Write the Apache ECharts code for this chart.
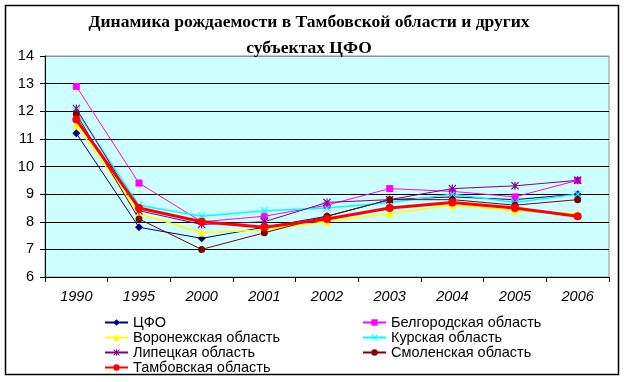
<!DOCTYPE html>
<html>
<head>
<meta charset="utf-8">
<script src="https://cdn.jsdelivr.net/npm/echarts@6/dist/echarts.min.js"></script>
<style>
html,body{margin:0;padding:0;background:#fff;}
#chart{width:624px;height:382px;}
</style>
</head>
<body>
<div id="chart"></div>
<script>
var categories = ['1990','1995','2000','2001','2002','2003','2004','2005','2006'];
var seriesNames = ['ЦФО','Белгородская область','Воронежская область','Курская область','Липецкая область','Смоленская область','Тамбовская область'];
var cfo        = [11.2, 7.8, 7.4, 7.8, 8.2, 8.8, 8.9, 8.8, 9.0];
var belgorod   = [12.9, 9.4, 8.0, 8.2, 8.6, 9.2, 9.1, 8.9, 9.5];
var voronezh   = [11.5, 8.3, 7.6, 7.7, 8.0, 8.3, 8.6, 8.4, 8.3];
var kursk      = [12.0, 8.6, 8.2, 8.4, 8.5, 8.7, 9.0, 8.7, 9.0];
var lipetsk    = [12.1, 8.4, 7.9, 8.0, 8.7, 8.8, 9.2, 9.3, 9.5];
var smolensk   = [11.9, 8.1, 7.0, 7.6, 8.2, 8.8, 8.8, 8.6, 8.8];
var tambov     = [11.7, 8.5, 8.0, 7.8, 8.1, 8.5, 8.7, 8.5, 8.2];
var yTicks = [6,7,8,9,10,11,12,13,14];

var crossPath = 'path://M0,1L1,0L5,4L9,0L10,1L6,5L10,9L9,10L5,6L1,10L0,9L4,5Z';
var starPath = 'path://M0,1L1,0L5,4L9,0L10,1L6,5L10,9L9,10L5,6L1,10L0,9L4,5Z M4.3,0L5.7,0L5.7,10L4.3,10Z';

var styles = [
  {data: cfo, color:'#000080', symbol:'diamond', size:8, width:1},
  {data: belgorod, color:'#FF00FF', symbol:'rect', size:7, width:1},
  {data: voronezh, color:'#FFFF00', symbol:'triangle', size:8, width:1.5},
  {data: kursk, color:'#00FFFF', symbol:crossPath, size:8, width:1.5},
  {data: lipetsk, color:'#800080', symbol:starPath, size:8, width:1},
  {data: smolensk, color:'#800000', symbol:'circle', size:7, width:1},
  {data: tambov, color:'#FF0000', symbol:'circle', size:8, width:3}
];

// dotted plot background pattern
var pc = document.createElement('canvas');
pc.width = 8; pc.height = 8;
var pctx = pc.getContext('2d');
pctx.fillStyle = '#CCFFFF'; pctx.fillRect(0,0,8,8);
pctx.fillStyle = '#F4FFFF';
pctx.fillRect(0,0,1,1); pctx.fillRect(4,4,1,1);

var series = styles.map(function(s, i){
  return {
    name: seriesNames[i],
    type: 'line',
    data: s.data,
    symbol: s.symbol,
    symbolSize: s.size,
    showAllSymbol: true,
    z: i === 6 ? 5 : 3,
    lineStyle: {color: s.color, width: s.width},
    itemStyle: {color: s.color},
    emphasis: {disabled: true},
    animation: false
  };
});

var splitColors = yTicks.map(function(t, i){ return i === yTicks.length - 1 ? '#909090' : '#000'; });

var legendText = {fontFamily: 'Liberation Sans', fontSize: 14.5, color: '#000', lineHeight: 14};

var chart = echarts.init(document.getElementById('chart'), null, {renderer:'canvas'});
chart.setOption({
  backgroundColor: '#fff',
  animation: false,
  title: {
    text: 'Динамика рождаемости в Тамбовской области и других\nсубъектах ЦФО',
    left: 304, top: 4, textAlign: 'center',
    textStyle: {fontFamily: 'Liberation Serif', fontWeight: 'bold', fontSize: 17.5, lineHeight: 26, color: '#000'}
  },
  legend: [
    {
      data: [seriesNames[0], seriesNames[2], seriesNames[4], seriesNames[6]],
      orient: 'vertical', left: 104, top: 315, padding: 0,
      itemWidth: 23, itemHeight: 8, itemGap: 0,
      textStyle: legendText,
      selectedMode: false
    },
    {
      data: [seriesNames[1], seriesNames[3], seriesNames[5]],
      orient: 'vertical', left: 362, top: 315, padding: 0,
      itemWidth: 23, itemHeight: 8, itemGap: 0,
      textStyle: legendText,
      selectedMode: false
    }
  ],
  grid: {
    left: 45, right: 15, top: 56, bottom: 105,
    show: true,
    backgroundColor: {image: pc, repeat: 'repeat'},
    borderColor: '#909090', borderWidth: 1
  },
  xAxis: {
    type: 'category',
    data: categories,
    boundaryGap: true,
    axisLine: {lineStyle: {color: '#000', width: 1}},
    axisTick: {show: true, inside: false, length: 5, lineStyle: {color: '#000'}},
    axisLabel: {fontFamily: 'Liberation Sans', fontSize: 14.5, fontStyle: 'italic', color: '#000', margin: 12}
  },
  yAxis: {
    type: 'value',
    min: yTicks[0], max: yTicks[yTicks.length - 1], interval: 1,
    axisLine: {show: true, lineStyle: {color: '#000', width: 1}},
    axisTick: {show: true, inside: false, length: 5, lineStyle: {color: '#000'}},
    axisLabel: {fontFamily: 'Liberation Sans', fontSize: 14.5, color: '#000', margin: 11},
    splitLine: {show: true, lineStyle: {color: splitColors, width: 1}}
  },
  series: series,
  graphic: [
    {type: 'rect', shape: {x: 5.5, y: 5.5, width: 613, height: 369}, style: {fill: null, stroke: '#000', lineWidth: 1.5}, silent: true, z: 100}
  ]
});
</script>
</body>
</html>
